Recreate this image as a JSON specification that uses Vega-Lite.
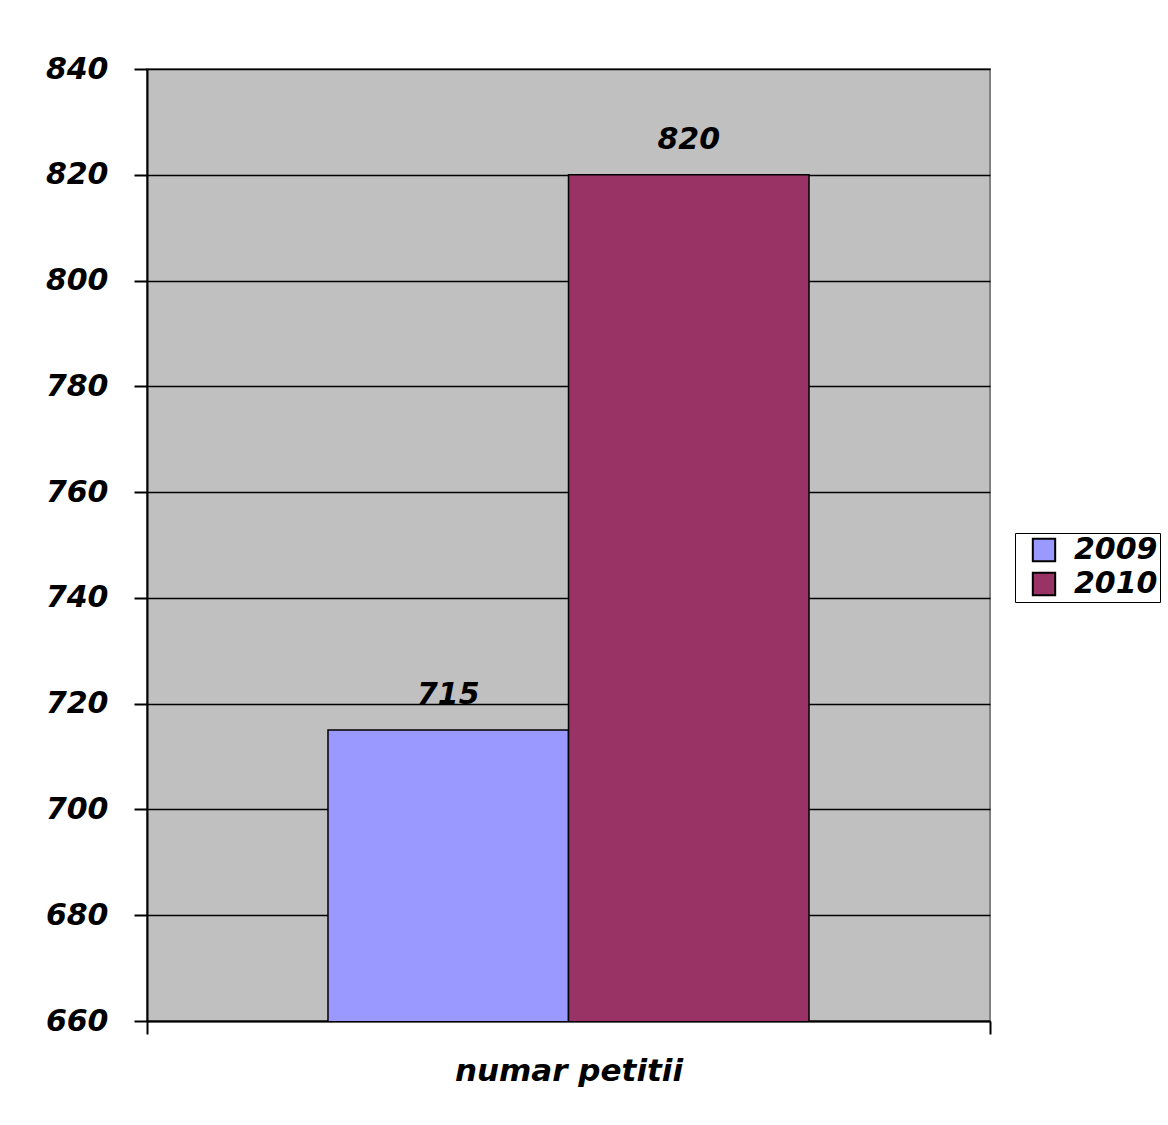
{
  "$schema": "https://vega.github.io/schema/vega-lite/v6.json",
  "autosize": {"type": "none"},
  "width": 843,
  "height": 952,
  "padding": {"left": 147, "top": 69, "right": 178, "bottom": 104},
  "background": "white",
  "data": {"values": [
    {"category": "numar petitii", "year": "2009", "value": 715},
    {"category": "numar petitii", "year": "2010", "value": 820}
  ]},
  "config": {
    "font": "DejaVu Sans",
    "view": {"fill": "#C0C0C0", "stroke": "#808080", "strokeWidth": 2},
    "axis": {"labelFont": "DejaVu Sans", "labelFontWeight": "bold", "labelFontStyle": "italic", "labelFontSize": 30, "labelColor": "black", "domainColor": "black", "domainWidth": 2, "tickColor": "black", "tickWidth": 2, "tickSize": 13}
  },
  "encoding": {
    "x": {
      "field": "category", "type": "nominal",
      "scale": {"paddingInner": 0, "paddingOuter": 0},
      "axis": {"title": null, "labelAngle": 0, "tickBand": "extent", "labelBaseline": "alphabetic", "labelPadding": 46, "labelFontSize": 31, "labelLimit": 0, "grid": false}
    },
    "xOffset": {
      "field": "year", "type": "nominal",
      "scale": {"paddingInner": 0, "paddingOuter": 0.7525}
    },
    "y": {
      "field": "value", "type": "quantitative",
      "scale": {"domain": [660, 840], "nice": false, "zero": false},
      "axis": {"title": null, "values": [660, 680, 700, 720, 740, 760, 780, 800, 820, 840], "grid": true, "gridColor": "black", "gridWidth": 1.5, "labelPadding": 26, "domain": true}
    }
  },
  "layer": [
    {
      "mark": {"type": "bar", "stroke": "black", "strokeWidth": 1.5, "clip": true},
      "encoding": {
        "color": {
          "field": "year", "type": "nominal",
          "scale": {"domain": ["2009", "2010"], "range": ["#9999FF", "#993366"]},
          "legend": {
            "title": null, "orient": "none", "legendX": 868, "legendY": 464,
            "direction": "vertical",
            "strokeColor": "black", "fillColor": "white",
            "padding": 2, "symbolOffset": 12,
            "symbolType": "square", "symbolSize": 500, "symbolStrokeColor": "black", "symbolStrokeWidth": 2,
            "labelFont": "DejaVu Sans", "labelFontSize": 30, "labelFontWeight": "bold", "labelFontStyle": "italic", "labelColor": "black",
            "rowPadding": 2, "labelOffset": 15
          }
        }
      }
    },
    {
      "mark": {"type": "text", "baseline": "alphabetic", "dy": -26, "fontSize": 30, "fontWeight": "bold", "fontStyle": "italic", "font": "DejaVu Sans", "color": "black"},
      "encoding": {"text": {"field": "value", "type": "quantitative"}}
    }
  ]
}
